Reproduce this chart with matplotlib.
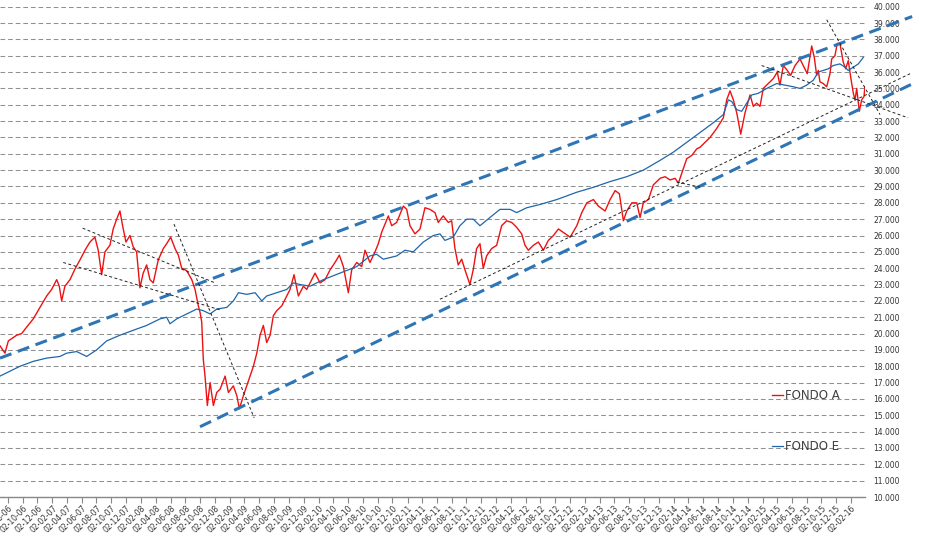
import numpy as np
import pandas as pd
import matplotlib
matplotlib.use('Agg')
import matplotlib.pyplot as plt
import matplotlib.dates as mdates
from matplotlib.ticker import FuncFormatter, MultipleLocator

# fechas en año decimal, valores cuota
fondo_a_t = [2006.496, 2006.552, 2006.590, 2006.684, 2006.740, 2006.797, 2006.871, 2006.947,
             2007.022, 2007.078, 2007.135, 2007.164, 2007.191, 2007.228, 2007.285, 2007.341,
             2007.397, 2007.454, 2007.510, 2007.566, 2007.603, 2007.642, 2007.679, 2007.735,
             2007.772, 2007.811, 2007.848, 2007.878, 2007.916, 2007.961, 2007.998, 2008.036,
             2008.073, 2008.110, 2008.149, 2008.186, 2008.223, 2008.279, 2008.336, 2008.374,
             2008.419, 2008.468, 2008.505, 2008.543, 2008.599, 2008.656, 2008.693, 2008.730,
             2008.749, 2008.768, 2008.786, 2008.805, 2008.831, 2008.862, 2008.899, 2008.937,
             2008.975, 2009.031, 2009.068, 2009.124, 2009.163, 2009.192, 2009.237, 2009.293,
             2009.350, 2009.388, 2009.425, 2009.462, 2009.500, 2009.538, 2009.575, 2009.613,
             2009.670, 2009.707, 2009.763, 2009.808, 2009.857, 2009.913, 2009.951, 2009.989,
             2010.045, 2010.101, 2010.158, 2010.214, 2010.270, 2010.319, 2010.364, 2010.420,
             2010.458, 2010.515, 2010.571, 2010.608, 2010.664, 2010.721, 2010.758, 2010.796,
             2010.833, 2010.871, 2010.909, 2010.965, 2011.040, 2011.078, 2011.115, 2011.171,
             2011.228, 2011.284, 2011.340, 2011.397, 2011.434, 2011.490, 2011.547, 2011.585,
             2011.622, 2011.659, 2011.698, 2011.735, 2011.791, 2011.828, 2011.866, 2011.904,
             2011.941, 2011.979, 2012.035, 2012.092, 2012.148, 2012.204, 2012.261, 2012.317,
             2012.373, 2012.411, 2012.448, 2012.504, 2012.561, 2012.617, 2012.673, 2012.730,
             2012.786, 2012.918, 2012.993, 2013.049, 2013.106, 2013.180, 2013.236, 2013.312,
             2013.368, 2013.425, 2013.473, 2013.518, 2013.556, 2013.613, 2013.669, 2013.706,
             2013.743, 2013.800, 2013.856, 2013.932, 2013.988, 2014.044, 2014.101, 2014.138,
             2014.194, 2014.232, 2014.289, 2014.345, 2014.382, 2014.495, 2014.570, 2014.645,
             2014.683, 2014.720, 2014.758, 2014.796, 2014.841, 2014.889, 2014.946, 2014.983,
             2015.021, 2015.058, 2015.095, 2015.152, 2015.208, 2015.253, 2015.283, 2015.321,
             2015.366, 2015.404, 2015.453, 2015.509, 2015.554, 2015.591, 2015.641, 2015.670,
             2015.697, 2015.715, 2015.734, 2015.771, 2015.810, 2015.847, 2015.866, 2015.903,
             2015.929, 2015.959, 2015.997, 2016.024, 2016.053, 2016.080, 2016.110, 2016.129,
             2016.148, 2016.177, 2016.204, 2016.230, 2016.240]
fondo_a_v = [19250, 18800, 19550, 19900, 20000, 20400, 20900, 21600,
             22300, 22700, 23300, 22900, 22000, 22900, 23300, 23950,
             24500, 25100, 25600, 25900, 25100, 23600, 25000, 25400,
             26400, 27000, 27500, 26600, 25600, 26000, 25300, 25000,
             22800, 23700, 24200, 23300, 23100, 24500, 25200, 25500,
             25900, 25200, 24800, 24000, 23850, 23300, 22700, 21700,
             21300, 20700, 18400, 17400, 15600, 17000, 15600, 16400,
             16600, 17400, 16400, 16800, 16200, 15400, 16200, 17100,
             18000, 18800, 19900, 20500, 19450, 19900, 21100, 21400,
             21700, 22100, 22700, 23600, 22300, 22900, 22700, 23100,
             23700, 23100, 23300, 23900, 24350, 24800, 24100, 22500,
             23900, 24350, 24100, 25100, 24350, 25000, 25500, 26200,
             26700, 27200, 26600, 26800, 27800, 27600, 26600, 26100,
             26400, 27700, 27600, 27400, 26800, 27200, 26800, 26900,
             25200, 24200, 24550, 23900, 23000, 23900, 25200, 25500,
             24000, 24750, 25200, 25400, 26600, 26900, 26800, 26500,
             26100, 25400, 25100, 25400, 25600, 25100, 25700, 26000,
             26400, 25900, 26600, 27400, 28000, 28200, 27800, 27500,
             28200, 28750, 28550, 26900, 27500, 28000, 28000, 27100,
             28000, 28200, 29100, 29500, 29600, 29400, 29500, 29200,
             30100, 30700, 30900, 31300, 31400, 32000, 32550, 33200,
             34300, 34850, 34300, 33500, 32200, 33500, 34600, 33900,
             34100, 33900, 35000, 35300, 35600, 36000, 35200, 36400,
             36100, 35800, 36400, 36800, 36300, 35900, 37600, 36900,
             35800, 36100, 35400, 35300, 35100, 35900, 36800, 37000,
             37750, 37750, 36600, 36200, 36700, 35700, 34700, 34300,
             35000, 33600, 34300, 34500, 35100]

fondo_e_t = [2006.496, 2006.609, 2006.721, 2006.871, 2007.022, 2007.172, 2007.247, 2007.360,
             2007.473, 2007.585, 2007.698, 2007.848, 2007.998, 2008.149, 2008.299, 2008.374,
             2008.411, 2008.487, 2008.599, 2008.712, 2008.786, 2008.862, 2008.937, 2009.050,
             2009.124, 2009.181, 2009.275, 2009.369, 2009.444, 2009.500, 2009.613, 2009.726,
             2009.800, 2009.876, 2009.989, 2010.138, 2010.326, 2010.515, 2010.664, 2010.740,
             2010.814, 2010.965, 2011.059, 2011.152, 2011.265, 2011.378, 2011.453, 2011.509,
             2011.603, 2011.678, 2011.754, 2011.828, 2011.904, 2012.016, 2012.129, 2012.242,
             2012.317, 2012.430, 2012.580, 2012.768, 2012.993, 2013.180, 2013.368, 2013.556,
             2013.743, 2013.932, 2014.081, 2014.232, 2014.382, 2014.532, 2014.645, 2014.701,
             2014.739, 2014.796, 2014.852, 2014.908, 2014.965, 2015.039, 2015.134, 2015.246,
             2015.340, 2015.434, 2015.509, 2015.584, 2015.659, 2015.715, 2015.771, 2015.828,
             2015.884, 2015.959, 2016.016, 2016.053, 2016.110, 2016.166, 2016.222]
fondo_e_v = [17400, 17700, 18000, 18300, 18500, 18600, 18800, 18900,
             18600, 19000, 19550, 19900, 20200, 20500, 20900, 21000,
             20600, 20900, 21200, 21500, 21400, 21200, 21500, 21600,
             22000, 22500, 22400, 22500, 22000, 22300, 22500, 22700,
             23100, 23000, 22900, 23300, 23700, 24100, 24750, 24850,
             24550, 24750, 25100, 25000, 25600, 26000, 26100, 25700,
             25900, 26600, 27000, 27000, 26600, 27100, 27600, 27600,
             27400, 27700, 27900, 28200, 28650, 28950, 29300, 29600,
             30000, 30600, 31100, 31700, 32300, 32900, 33400, 34300,
             34200, 33700, 33600, 34100, 34600, 34700, 35000, 35300,
             35200, 35100, 35000, 35200, 35500, 36000, 36100, 36200,
             36400, 36500, 36300, 36100, 36300, 36500, 36900]

# canal (azul grueso) y lineas de tendencia (negro) : (t0, v0, t1, v1)
canal = [(2006.496, 18500, 2016.771, 39400),
         (2008.749, 14300, 2016.782, 35300)]
tendencias = [(2007.428, 26450, 2008.918, 23100),
              (2007.209, 24350, 2008.975, 21450),
              (2008.456, 26700, 2009.358, 14850),
              (2011.453, 22100, 2016.748, 35900),
              (2015.077, 36400, 2016.726, 33200),
              (2015.810, 39200, 2016.410, 33400),
              (2014.120, 29270, 2014.382, 28960)]

x_ini, x_fin = 2006.496, 2016.241


def dec2num(y):
    y = np.atleast_1d(np.asarray(y, dtype=float))
    out = []
    for v in y:
        yr = int(v)
        a = pd.Timestamp(yr, 1, 1)
        b = pd.Timestamp(yr + 1, 1, 1)
        out.append(mdates.date2num(a + (b - a) * (v - yr)))
    return np.array(out)


fig = plt.figure(figsize=(9.33, 5.40), dpi=100)
ax = fig.add_axes([0.0, 0.0796, 0.9271, 0.9080])

ax.plot(dec2num(fondo_a_t), fondo_a_v, color='#EE1111', lw=1.0, label='FONDO A')
ax.plot(dec2num(fondo_e_t), fondo_e_v, color='#1F66AA', lw=0.9, label='FONDO E')
h = ax.get_lines()

for t0, v0, t1, v1 in canal:
    ax.plot(dec2num([t0, t1]), [v0, v1], color='#2E75B6', lw=2.2,
            ls=(0, (4, 2.2)), clip_on=False, zorder=4)
for t0, v0, t1, v1 in tendencias:
    ax.plot(dec2num([t0, t1]), [v0, v1], color='#222222', lw=0.7,
            ls=(0, (3, 2.5)), clip_on=False, zorder=4)

ax.set_xlim(dec2num(x_ini)[0], dec2num(x_fin)[0])
ax.set_ylim(10000, 40000)

ax.yaxis.set_major_locator(MultipleLocator(1000))
ax.yaxis.set_major_formatter(FuncFormatter(lambda v, p: '{:,.0f}'.format(v).replace(',', '.')))
ax.yaxis.tick_right()
ax.tick_params(axis='y', length=0, pad=6, labelsize=5.5, labelcolor='#333333')
ax.grid(axis='y', ls=(0, (4.5, 2.8)), lw=0.75, color='#909090')

ax.xaxis.set_major_locator(mdates.MonthLocator(bymonth=(2, 4, 6, 8, 10, 12), bymonthday=2))
ax.xaxis.set_major_formatter(mdates.DateFormatter('%d-%m-%y'))
ax.tick_params(axis='x', length=4, width=0.8, color='#888888', labelsize=5.5,
               labelcolor='#333333', pad=1)
plt.setp(ax.get_xticklabels(), rotation=45, ha='right', rotation_mode='anchor')

for s in ['top', 'left', 'right']:
    ax.spines[s].set_visible(False)
ax.spines['bottom'].set_color('#888888')
ax.spines['bottom'].set_linewidth(1.0)

leg = ax.legend(handles=h, loc='upper left', bbox_to_anchor=(772 / 933, 1 - 389 / 540),
                bbox_transform=fig.transFigure, frameon=False, fontsize=8.5,
                handlelength=0.9, handletextpad=0.2, labelspacing=3.2,
                borderpad=0, borderaxespad=0)
for t in leg.get_texts():
    t.set_color('#404040')

plt.savefig('out.png', dpi=100)
